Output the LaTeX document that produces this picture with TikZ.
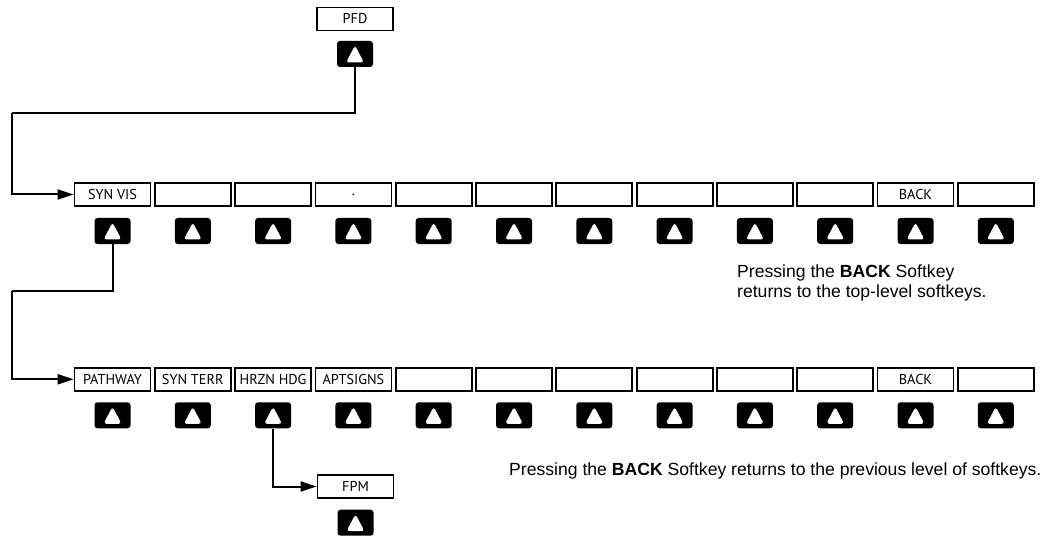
\documentclass[tikz,border=0pt]{standalone}
\usepackage{fontspec}
\setmainfont{Liberation Sans}
\newfontfamily\keyfont{PT Sans}
\usetikzlibrary{arrows.meta}
\tikzset{
  skbox/.style={draw, line width=1.8pt, minimum width=76pt, minimum height=23pt, inner sep=0pt, font=\keyfont\fontsize{14.3}{16}\selectfont},
  btn/.style={fill=black, rounded corners=3pt, minimum width=36pt, minimum height=26pt, inner sep=0pt,
    path picture={\fill[white] ([yshift=8.5pt]path picture bounding box.center) -- ([xshift=-9pt,yshift=-8.5pt]path picture bounding box.center) -- ([xshift=9pt,yshift=-8.5pt]path picture bounding box.center) -- cycle;}},
  conn/.style={line width=2pt, -{Triangle[length=16pt,width=10pt]}},
  plain/.style={line width=2pt},
  note/.style={font=\fontsize{17.6}{20}\selectfont, inner sep=0pt, anchor=base west, align=left}
}
\begin{document}
\begin{tikzpicture}[x=1pt,y=-1pt]
\useasboundingbox (0,0) rectangle (1044,540);
% top level
\node[skbox] (pfd) at (355,19) {PFD};
\node[btn] (pfdk) at (355,54) {};
% row 1
\foreach \i/\t in {1/SYN VIS,2/,3/,4/.,5/,6/,7/,8/,9/,10/,11/BACK,12/}{
  \node[skbox] (ra\i) at ({112.5+80.3*(\i-1)},194.5) {\t};
  \node[btn] (rak\i) at ({112.5+80.3*(\i-1)},231) {};
}
% row 2
\foreach \i/\t in {1/PATHWAY,2/SYN TERR,3/HRZN HDG,4/APTSIGNS,5/,6/,7/,8/,9/,10/,11/BACK,12/}{
  \node[skbox] (rb\i) at ({112.5+80.3*(\i-1)},379.3) {\t};
  \node[btn] (rbk\i) at ({112.5+80.3*(\i-1)},415.3) {};
}
% FPM
\node[skbox] (fpm) at (355.5,486.5) {FPM};
\node[btn] (fpmk) at (355.5,522.7) {};
% connectors
\coordinate (c1) at (12,113);
\coordinate (c2) at (12,291);
\draw[plain] (pfdk.south) |- (c1);
\draw[conn] (c1) |- (ra1.west);
\draw[plain] (rak1.south) |- (c2);
\draw[conn] (c2) |- (rb1.west);
\draw[conn] (rbk3.south) |- (fpm.west);
% notes
\node[note] (n1) at (737,297) {Pressing the \textbf{BACK} Softkey\\returns to the top-level softkeys.};
\node[note] (n2) at (509,475) {Pressing the \textbf{BACK} Softkey returns to the previous level of softkeys.};
\end{tikzpicture}
\end{document}
